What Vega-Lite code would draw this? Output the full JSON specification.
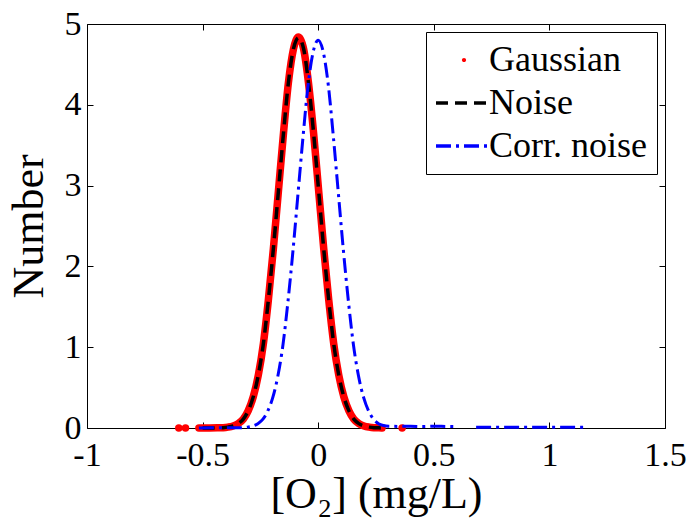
{
  "$schema": "https://vega.github.io/schema/vega-lite/v6.json",
  "width": 578,
  "height": 404,
  "autosize": {"type": "none"},
  "padding": {"left": 87, "top": 24, "right": 23, "bottom": 98},
  "background": "white",
  "data": {
    "values": [
      {"series": "Gaussian", "part": "d1", "x": -0.603, "y": 0},
      {"series": "Gaussian", "part": "d2", "x": -0.574, "y": 0},
      {"series": "Gaussian", "part": "m", "x": -0.516, "y": 0},
      {"series": "Gaussian", "part": "m", "x": -0.47, "y": 0},
      {"series": "Gaussian", "part": "m", "x": -0.433, "y": 0.002},
      {"series": "Gaussian", "part": "m", "x": -0.411, "y": 0.004},
      {"series": "Gaussian", "part": "m", "x": -0.39, "y": 0.011},
      {"series": "Gaussian", "part": "m", "x": -0.368, "y": 0.025},
      {"series": "Gaussian", "part": "m", "x": -0.346, "y": 0.054},
      {"series": "Gaussian", "part": "m", "x": -0.324, "y": 0.11},
      {"series": "Gaussian", "part": "m", "x": -0.303, "y": 0.212},
      {"series": "Gaussian", "part": "m", "x": -0.281, "y": 0.385},
      {"series": "Gaussian", "part": "m", "x": -0.259, "y": 0.655},
      {"series": "Gaussian", "part": "m", "x": -0.237, "y": 1.047},
      {"series": "Gaussian", "part": "m", "x": -0.216, "y": 1.572},
      {"series": "Gaussian", "part": "m", "x": -0.194, "y": 2.216},
      {"series": "Gaussian", "part": "m", "x": -0.172, "y": 2.935},
      {"series": "Gaussian", "part": "m", "x": -0.15, "y": 3.653},
      {"series": "Gaussian", "part": "m", "x": -0.129, "y": 4.271},
      {"series": "Gaussian", "part": "m", "x": -0.107, "y": 4.691},
      {"series": "Gaussian", "part": "m", "x": -0.085, "y": 4.84},
      {"series": "Gaussian", "part": "m", "x": -0.063, "y": 4.691},
      {"series": "Gaussian", "part": "m", "x": -0.042, "y": 4.271},
      {"series": "Gaussian", "part": "m", "x": -0.02, "y": 3.653},
      {"series": "Gaussian", "part": "m", "x": 0.002, "y": 2.935},
      {"series": "Gaussian", "part": "m", "x": 0.024, "y": 2.216},
      {"series": "Gaussian", "part": "m", "x": 0.046, "y": 1.572},
      {"series": "Gaussian", "part": "m", "x": 0.067, "y": 1.047},
      {"series": "Gaussian", "part": "m", "x": 0.089, "y": 0.655},
      {"series": "Gaussian", "part": "m", "x": 0.111, "y": 0.385},
      {"series": "Gaussian", "part": "m", "x": 0.133, "y": 0.212},
      {"series": "Gaussian", "part": "m", "x": 0.154, "y": 0.11},
      {"series": "Gaussian", "part": "m", "x": 0.176, "y": 0.054},
      {"series": "Gaussian", "part": "m", "x": 0.198, "y": 0.025},
      {"series": "Gaussian", "part": "m", "x": 0.22, "y": 0.011},
      {"series": "Gaussian", "part": "m", "x": 0.241, "y": 0.004},
      {"series": "Gaussian", "part": "m", "x": 0.263, "y": 0.002},
      {"series": "Gaussian", "part": "m", "x": 0.276, "y": 0},
      {"series": "Gaussian", "part": "d3", "x": 0.363, "y": 0},
      {"series": "Noise", "part": "m", "x": -0.5, "y": 0},
      {"series": "Noise", "part": "m", "x": -0.433, "y": 0.002},
      {"series": "Noise", "part": "m", "x": -0.411, "y": 0.004},
      {"series": "Noise", "part": "m", "x": -0.39, "y": 0.011},
      {"series": "Noise", "part": "m", "x": -0.368, "y": 0.025},
      {"series": "Noise", "part": "m", "x": -0.346, "y": 0.054},
      {"series": "Noise", "part": "m", "x": -0.324, "y": 0.11},
      {"series": "Noise", "part": "m", "x": -0.303, "y": 0.212},
      {"series": "Noise", "part": "m", "x": -0.281, "y": 0.385},
      {"series": "Noise", "part": "m", "x": -0.259, "y": 0.655},
      {"series": "Noise", "part": "m", "x": -0.237, "y": 1.047},
      {"series": "Noise", "part": "m", "x": -0.216, "y": 1.572},
      {"series": "Noise", "part": "m", "x": -0.194, "y": 2.216},
      {"series": "Noise", "part": "m", "x": -0.172, "y": 2.935},
      {"series": "Noise", "part": "m", "x": -0.15, "y": 3.653},
      {"series": "Noise", "part": "m", "x": -0.129, "y": 4.271},
      {"series": "Noise", "part": "m", "x": -0.107, "y": 4.691},
      {"series": "Noise", "part": "m", "x": -0.085, "y": 4.83},
      {"series": "Noise", "part": "m", "x": -0.063, "y": 4.691},
      {"series": "Noise", "part": "m", "x": -0.042, "y": 4.271},
      {"series": "Noise", "part": "m", "x": -0.02, "y": 3.653},
      {"series": "Noise", "part": "m", "x": 0.002, "y": 2.935},
      {"series": "Noise", "part": "m", "x": 0.024, "y": 2.216},
      {"series": "Noise", "part": "m", "x": 0.046, "y": 1.572},
      {"series": "Noise", "part": "m", "x": 0.067, "y": 1.047},
      {"series": "Noise", "part": "m", "x": 0.089, "y": 0.655},
      {"series": "Noise", "part": "m", "x": 0.111, "y": 0.385},
      {"series": "Noise", "part": "m", "x": 0.133, "y": 0.212},
      {"series": "Noise", "part": "m", "x": 0.154, "y": 0.11},
      {"series": "Noise", "part": "m", "x": 0.176, "y": 0.054},
      {"series": "Noise", "part": "m", "x": 0.198, "y": 0.025},
      {"series": "Noise", "part": "m", "x": 0.22, "y": 0.011},
      {"series": "Noise", "part": "m", "x": 0.241, "y": 0.004},
      {"series": "Noise", "part": "m", "x": 0.263, "y": 0.002},
      {"series": "Noise", "part": "m", "x": 0.285, "y": 0},
      {"series": "Corr. noise", "part": "a", "x": -0.516, "y": 0},
      {"series": "Corr. noise", "part": "a", "x": -0.45, "y": 0.002},
      {"series": "Corr. noise", "part": "a", "x": -0.4, "y": 0.002},
      {"series": "Corr. noise", "part": "a", "x": -0.348, "y": 0.002},
      {"series": "Corr. noise", "part": "a", "x": -0.326, "y": 0.004},
      {"series": "Corr. noise", "part": "a", "x": -0.305, "y": 0.011},
      {"series": "Corr. noise", "part": "a", "x": -0.283, "y": 0.024},
      {"series": "Corr. noise", "part": "a", "x": -0.261, "y": 0.053},
      {"series": "Corr. noise", "part": "a", "x": -0.239, "y": 0.109},
      {"series": "Corr. noise", "part": "a", "x": -0.218, "y": 0.211},
      {"series": "Corr. noise", "part": "a", "x": -0.196, "y": 0.382},
      {"series": "Corr. noise", "part": "a", "x": -0.174, "y": 0.649},
      {"series": "Corr. noise", "part": "a", "x": -0.152, "y": 1.038},
      {"series": "Corr. noise", "part": "a", "x": -0.131, "y": 1.559},
      {"series": "Corr. noise", "part": "a", "x": -0.109, "y": 2.197},
      {"series": "Corr. noise", "part": "a", "x": -0.087, "y": 2.911},
      {"series": "Corr. noise", "part": "a", "x": -0.065, "y": 3.623},
      {"series": "Corr. noise", "part": "a", "x": -0.044, "y": 4.236},
      {"series": "Corr. noise", "part": "a", "x": -0.022, "y": 4.652},
      {"series": "Corr. noise", "part": "a", "x": 0.0, "y": 4.8},
      {"series": "Corr. noise", "part": "a", "x": 0.022, "y": 4.652},
      {"series": "Corr. noise", "part": "a", "x": 0.044, "y": 4.236},
      {"series": "Corr. noise", "part": "a", "x": 0.065, "y": 3.623},
      {"series": "Corr. noise", "part": "a", "x": 0.087, "y": 2.911},
      {"series": "Corr. noise", "part": "a", "x": 0.109, "y": 2.197},
      {"series": "Corr. noise", "part": "a", "x": 0.131, "y": 1.559},
      {"series": "Corr. noise", "part": "a", "x": 0.152, "y": 1.038},
      {"series": "Corr. noise", "part": "a", "x": 0.174, "y": 0.649},
      {"series": "Corr. noise", "part": "a", "x": 0.196, "y": 0.382},
      {"series": "Corr. noise", "part": "a", "x": 0.218, "y": 0.211},
      {"series": "Corr. noise", "part": "a", "x": 0.239, "y": 0.109},
      {"series": "Corr. noise", "part": "a", "x": 0.261, "y": 0.053},
      {"series": "Corr. noise", "part": "a", "x": 0.283, "y": 0.03},
      {"series": "Corr. noise", "part": "a", "x": 0.305, "y": 0.022},
      {"series": "Corr. noise", "part": "a", "x": 0.35, "y": 0.02},
      {"series": "Corr. noise", "part": "a", "x": 0.4, "y": 0.022},
      {"series": "Corr. noise", "part": "a", "x": 0.45, "y": 0.018},
      {"series": "Corr. noise", "part": "a", "x": 0.5, "y": 0.022},
      {"series": "Corr. noise", "part": "a", "x": 0.55, "y": 0.02},
      {"series": "Corr. noise", "part": "a", "x": 0.603, "y": 0.018},
      {"series": "Corr. noise", "part": "b", "x": 0.683, "y": 0.008},
      {"series": "Corr. noise", "part": "b", "x": 0.75, "y": 0.008},
      {"series": "Corr. noise", "part": "b", "x": 0.85, "y": 0.008},
      {"series": "Corr. noise", "part": "b", "x": 0.95, "y": 0.008},
      {"series": "Corr. noise", "part": "b", "x": 1.05, "y": 0.008},
      {"series": "Corr. noise", "part": "b", "x": 1.163, "y": 0.008}
    ]
  },
  "encoding": {
    "color": {
      "field": "series",
      "type": "nominal",
      "scale": {"domain": ["Gaussian", "Noise", "Corr. noise"], "range": ["#ff0000", "#000000", "#0000ff"]},
      "legend": {
        "title": null,
        "orient": "top-right",
        "offset": 8,
        "padding": 10,
        "strokeColor": "black",
        "fillColor": "white",
        "cornerRadius": 0,
        "labelFont": "Liberation Serif",
        "labelFontSize": 36,
        "labelColor": "black",
        "labelOffset": 7,
        "symbolOffset": 10,
        "rowPadding": 7,
        "symbolType": "stroke",
        "symbolSize": 3136,
        "symbolStrokeWidth": 3.5,
        "encode": {
          "symbols": {
            "update": {
              "shape": {"signal": "datum.value === 'Gaussian' ? 'M-0.075,0A0.075,0.075,0,1,0,0.075,0A0.075,0.075,0,1,0,-0.075,0Z' : 'stroke'"},
              "fill": {"signal": "datum.value === 'Gaussian' ? '#ff0000' : 'transparent'"},
              "strokeDash": {"signal": "datum.value === 'Noise' ? [12, 7] : datum.value === 'Corr. noise' ? [15, 5, 3, 5] : [1, 0]"},
              "strokeWidth": {"signal": "datum.value === 'Gaussian' ? 0 : 3.5"}
            }
          }
        }
      }
    }
  },
  "layer": [
    {
      "transform": [{"filter": "datum.series === 'Gaussian'"}],
      "mark": {"type": "point", "filled": true, "shape": "circle", "size": 25, "opacity": 1},
      "encoding": {
        "x": {
          "field": "x",
          "type": "quantitative",
          "scale": {"domain": [-1, 1.5], "nice": false, "zero": false},
          "axis": {"orient": "top", "labels": false, "title": null, "values": [-1, -0.5, 0, 0.5, 1, 1.5]}
        },
        "y": {
          "field": "y",
          "type": "quantitative",
          "scale": {"domain": [0, 5], "nice": false},
          "axis": {"orient": "right", "labels": false, "title": null, "values": [0, 1, 2, 3, 4, 5]}
        }
      }
    },
    {
      "encoding": {
        "x": {
          "field": "x",
          "type": "quantitative",
          "scale": {"domain": [-1, 1.5], "nice": false, "zero": false},
          "axis": {
            "orient": "bottom",
            "title": "[O₂] (mg/L)",
            "values": [-1, -0.5, 0, 0.5, 1, 1.5],
            "labelExpr": "'' + datum.value",
            "labelPadding": 16,
            "titlePadding": 0
          }
        },
        "y": {
          "field": "y",
          "type": "quantitative",
          "scale": {"domain": [0, 5], "nice": false},
          "axis": {
            "orient": "left",
            "title": "Number",
            "values": [0, 1, 2, 3, 4, 5],
            "labelExpr": "'' + datum.value",
            "labelPadding": 12,
            "titlePadding": 13
          }
        },
        "detail": {"field": "part"}
      },
      "layer": [
        {
          "transform": [{"filter": "datum.series === 'Gaussian'"}],
          "mark": {"type": "line", "strokeWidth": 7.5, "interpolate": "monotone", "strokeCap": "round", "strokeJoin": "round"}
        },
        {
          "transform": [{"filter": "datum.series === 'Noise'"}],
          "mark": {"type": "line", "strokeWidth": 3.5, "strokeDash": [12, 7], "interpolate": "monotone"}
        },
        {
          "transform": [{"filter": "datum.series === 'Corr. noise'"}],
          "mark": {"type": "line", "strokeWidth": 3, "strokeDash": [15, 5, 3, 5], "interpolate": "monotone"}
        }
      ]
    }
  ],
  "resolve": {"axis": {"x": "independent", "y": "independent"}},
  "config": {
    "view": {"stroke": null},
    "axis": {
      "grid": false,
      "domainColor": "#000000",
      "domainWidth": 1,
      "tickColor": "#000000",
      "tickSize": -6,
      "labelFont": "Liberation Serif",
      "labelFontSize": 34,
      "labelColor": "#000000",
      "labelFlush": false,
      "labelOverlap": false,
      "titleFont": "Liberation Serif",
      "titleFontSize": 44,
      "titleFontWeight": "normal",
      "titleColor": "#000000"
    }
  }
}
